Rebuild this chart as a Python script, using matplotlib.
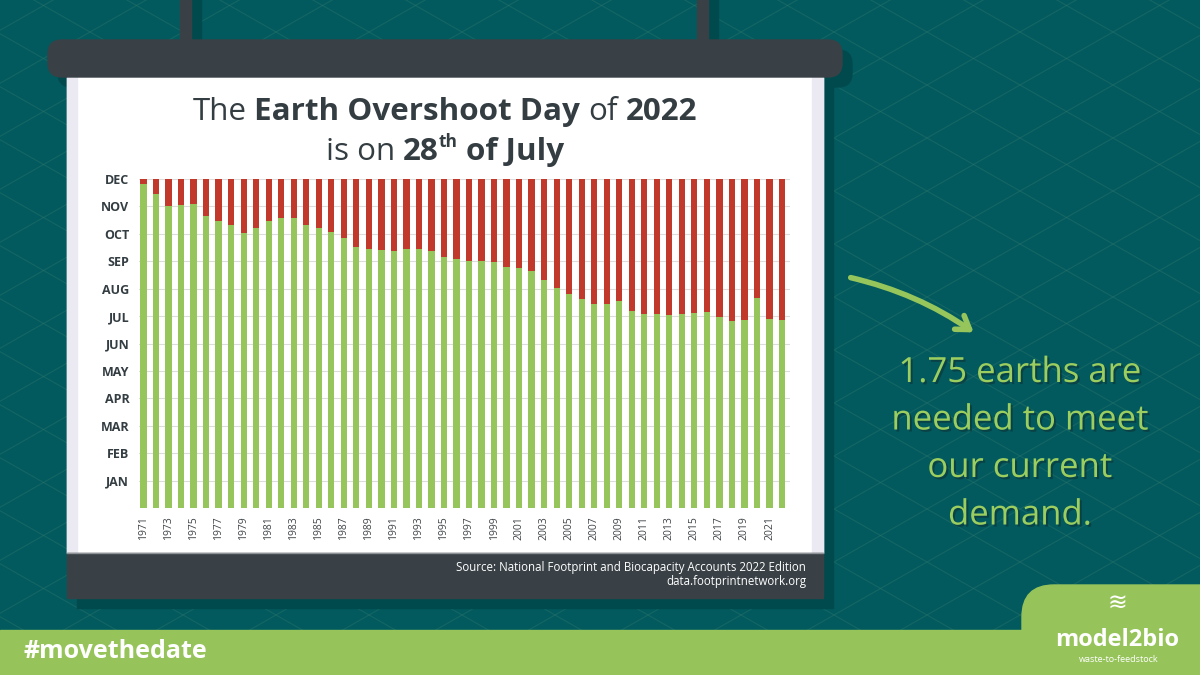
import datetime as dt
import numpy as np
import matplotlib
matplotlib.use('Agg')
import matplotlib.pyplot as plt
from matplotlib.patches import Rectangle, FancyBboxPatch, FancyArrowPatch
import matplotlib.patheffects as pe

plt.rcParams['font.family'] = ['Open Sans', 'DejaVu Sans']

# data: Earth Overshoot Day per year
years = list(range(1971, 2023))
overshoot = ["Dec 25", "Dec 14", "Dec 1", "Dec 2", "Dec 3", "Nov 20", "Nov 14", "Nov 10",
             "Nov 1", "Nov 7", "Nov 14", "Nov 18", "Nov 18", "Nov 10", "Nov 7", "Nov 2",
             "Oct 26", "Oct 17", "Oct 14", "Oct 13", "Oct 12", "Oct 14", "Oct 14", "Oct 12",
             "Oct 6", "Oct 3", "Oct 1", "Oct 1", "Sep 30", "Sep 24", "Sep 23", "Sep 20",
             "Sep 10", "Sep 1", "Aug 25", "Aug 20", "Aug 14", "Aug 14", "Aug 18", "Aug 7",
             "Aug 3", "Aug 3", "Aug 2", "Aug 3", "Aug 4", "Aug 5", "Jul 31", "Jul 27",
             "Jul 28", "Aug 21", "Jul 29", "Jul 28"]
months = ["JAN", "FEB", "MAR", "APR", "MAY", "JUN", "JUL", "AUG", "SEP", "OCT", "NOV", "DEC"]
year_labels = [str(y) for y in years[::2]]

day_of_year = [dt.datetime.strptime(f"{d} 2001", "%b %d %Y").timetuple().tm_yday
               for d in overshoot]

GREEN = '#95c55b'
RED = '#c0392b'
TEAL = '#025a5e'
DARK = '#394146'
SHADOW = '#004a4e'
TXT = '#333d42'

fig = plt.figure(figsize=(12, 6.75), dpi=100)
fig.patch.set_facecolor(TEAL)
renderer = fig.canvas.get_renderer()

# background layer in pixel coordinates
bg = fig.add_axes([0, 0, 1, 1])
bg.set_xlim(0, 1200)
bg.set_ylim(675, 0)
bg.axis('off')

# lattice pattern
s = 53 / 93
for k in range(-30, 40):
    c1 = 33.7 + k * 53
    bg.plot([0, 1200], [c1, c1 + s * 1200], color='#3f8270', lw=0.8, alpha=0.3, zorder=1)
    c2 = 30.3 + k * 53
    bg.plot([0, 1200], [c2, c2 - s * 1200], color='#3f8270', lw=0.8, alpha=0.3, zorder=1)

# shadows
off = 10
for rx in (180, 697):
    bg.add_patch(Rectangle((rx + off, 0), 11, 40 + off, color=SHADOW, zorder=2))
bg.add_patch(FancyBboxPatch((48 + off, 40 + off), 794, 37, boxstyle='round,pad=0,rounding_size=14',
                            color=SHADOW, zorder=2))
bg.add_patch(Rectangle((67 + off, 78), 756, 520 + off, color=SHADOW, zorder=2))

# hanger rods and top bar
for rx in (180, 697):
    bg.add_patch(Rectangle((rx, 0), 11, 42, color=DARK, zorder=3))
bg.add_patch(FancyBboxPatch((48, 40), 794, 37, boxstyle='round,pad=0,rounding_size=14',
                            color=DARK, zorder=4))

# poster sheet
bg.add_patch(Rectangle((67, 77), 756, 476, color='white', zorder=3))
bg.add_patch(Rectangle((67, 77), 10, 476, color='#ebeaf2', zorder=3))
bg.add_patch(Rectangle((812, 77), 11, 476, color='#ebeaf2', zorder=3))
bg.add_patch(Rectangle((67, 553), 756, 45, color=DARK, zorder=3))
bg.plot([67, 823], [553, 553], color='#8c9296', lw=1, zorder=3.5)

# bottom band and logo tab
bg.add_patch(Rectangle((0, 630), 1200, 45, color='#96c45a', zorder=3))
bg.add_patch(FancyBboxPatch((1022, 585), 230, 120, boxstyle='round,pad=0,rounding_size=32',
                            color='#96c45a', zorder=3))


def mixed_line(parts, xc, y, size, color, target=None):
    """Draw a line of text made of pieces with different weights, centred on xc."""
    def layout(sz, draw=False, x0=0):
        x = x0
        gap = sz * 100 / 72 * 0.26
        for text, weight, scale, rise, space in parts:
            if space:
                x += gap
            t = bg.text(x, y - rise * sz * 100 / 72, text, fontsize=sz * scale, fontweight=weight,
                        color=color, ha='left', va='baseline', zorder=6)
            w = t.get_window_extent(renderer).width
            if not draw:
                t.remove()
            x += w
        return x - x0
    if target:
        size = size * target / layout(size)
    width = layout(size)
    layout(size, draw=True, x0=xc - width / 2)
    return size


title_size = mixed_line([("The", 'normal', 1, 0, False),
                         ("Earth Overshoot Day", 'bold', 1, 0, True),
                         ("of", 'normal', 1, 0, True),
                         ("2022", 'bold', 1, 0, True)], 445, 120, 22, TXT, target=505)
mixed_line([("is on", 'normal', 1, 0, False),
            ("28", 'bold', 1, 0, True),
            ("th", 'bold', 0.55, 0.42, False),
            ("of July", 'bold', 1, 0, True)], 445, 160, title_size, TXT)

# source text
bg.text(806, 568, "Source: National Footprint and Biocapacity Accounts 2022 Edition",
        fontsize=8.3, color='white', ha='right', va='center', zorder=6)
bg.text(806, 582, "data.footprintnetwork.org", fontsize=8.3, color='white',
        ha='right', va='center', zorder=6)

# hashtag and logo
bg.text(23, 652, "#movethedate", fontsize=18, fontweight='bold', color='white',
        ha='left', va='center', zorder=6)
bg.text(1117, 604, "≋", fontsize=17, color='white', ha='center', va='center',
        family='DejaVu Sans', zorder=6)
bg.text(1117, 640, "model2bio", fontsize=17, fontweight='bold', color='white',
        ha='center', va='center', zorder=6)
bg.text(1119, 659, "waste-to-feedstock", fontsize=6.5, color='white',
        ha='center', va='center', zorder=6)

# handwritten-style note and arrow
note = ["1.75 earths are", "needed to meet", "our current", "demand."]
for i, line in enumerate(note):
    bg.text(1020, 373 + i * 47.5, line, fontsize=25, color='#9ccd5f', ha='center', va='center',
            zorder=6, path_effects=[pe.withSimplePatchShadow(offset=(1.5, -1.5),
                                                             shadow_rgbFace='#0e3336', alpha=0.6)])
bg.add_patch(FancyArrowPatch((848, 277), (976, 334), connectionstyle='arc3,rad=-0.1',
                             arrowstyle='->,head_length=9,head_width=6', lw=4,
                             color=GREEN, zorder=6))

# the chart itself
ax = fig.add_axes([139 / 1200, (675 - 508) / 675, (790 - 139) / 1200, (508 - 179) / 675])
ax.set_facecolor('none')
ax.set_zorder(5)
ax.bar(years, day_of_year, width=0.5, color=GREEN, zorder=3)
ax.bar(years, [365 - d for d in day_of_year], bottom=day_of_year, width=0.5, color=RED, zorder=3)
ax.set_xlim(1970.64, 2022.64)
ax.set_ylim(0, 365)
month_pos = [365 / 12 * (i + 1) for i in range(12)]
ax.set_yticks(month_pos)
ax.set_yticklabels(months, fontsize=9, fontweight='bold', color=TXT)
ax.set_xticks(years[::2])
ax.set_xticklabels(year_labels, rotation=90, fontsize=7.5, color='#3f4447')
ax.tick_params(axis='both', length=0)
ax.tick_params(axis='y', pad=7)
ax.tick_params(axis='x', pad=6)
ax.grid(axis='y', color='#dcdcdc', lw=0.8, zorder=0)
for sp in ax.spines.values():
    sp.set_visible(False)

fig.savefig('out.png', dpi=100, facecolor=TEAL)
